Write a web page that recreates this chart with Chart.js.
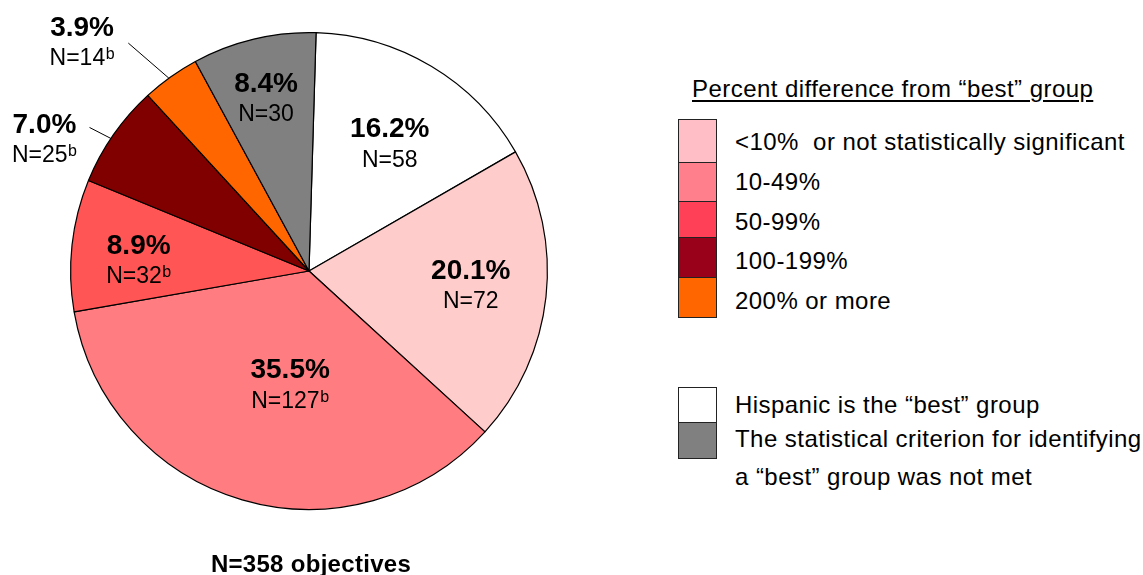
<!DOCTYPE html>
<html>
<head>
<meta charset="utf-8">
<script src="https://cdn.jsdelivr.net/npm/chart.js@4/dist/chart.umd.min.js"></script>
<style>
  html, body { margin: 0; padding: 0; background: #fff; }
  body { width: 1143px; height: 575px; position: relative; overflow: hidden;
         font-family: "Liberation Sans", Arial, sans-serif; color: #000; }
  #pie { position: absolute; left: 0; top: 0; }
  .t { position: absolute; font-size: 24px; line-height: 24px; white-space: pre; letter-spacing: 0.45px; }
  .box { position: absolute; left: 678px; width: 39px; box-sizing: border-box; border: 1px solid #222; }
  #foot { position: absolute; left: 111px; width: 400px; top: 551.5px; text-align: center;
          font-weight: bold; font-size: 24px; line-height: 24px; letter-spacing: 0.3px; }
</style>
</head>
<body>
<canvas id="pie" width="618" height="575"></canvas>

<div class="t" style="left:692px; top:77px; text-decoration: underline; text-underline-offset: 3px;">Percent difference from “best” group</div>

<div id="legend1"></div>
<div id="legend2"></div>
<div id="foot">N=358 objectives</div>

<script>
// ---- data ----
const categories = [
  'Hispanic is the “best” group',
  '<10% or not statistically significant',
  '10-49%',
  '50-99%',
  '100-199%',
  '200% or more',
  'The statistical criterion for identifying a “best” group was not met'
];
const counts = [58, 72, 127, 32, 25, 14, 30];
const percentLabels = ['16.2%', '20.1%', '35.5%', '8.9%', '7.0%', '3.9%', '8.4%'];
const footnoteB = [false, false, true, true, true, true, false];

const legendLabels1 = ['<10%  or not statistically significant', '10-49%', '50-99%', '100-199%', '200% or more'];
const legendLabels2 = ['Hispanic is the “best” group', 'The statistical criterion for identifying', 'a “best” group was not met'];

// ---- styles ----
const sliceColors = ['#FFFFFF', '#FFCCCC', '#FF7C80', '#FF5555', '#800000', '#FF6600', '#808080'];
const legendColors1 = ['#FFBDC5', '#FF808C', '#FF4057', '#990019', '#FF6600'];
const legendColors2 = ['#FFFFFF', '#808080'];

// label placement relative to each slice (angle offset in degrees, radius factor)
const labelPlace = [
  { da: 1.4, r: 0.635 },
  { da: -1.4, r: 0.681 },
  { da: -6.8, r: 0.48 },
  { da: -2.3, r: 0.716 },
  { da: -8.2, r: 1.242 },
  { da: -9.2, r: 1.353 },
  { da: -0.5, r: 0.751 }
];
const leaders = [null, null, null, null,
  { da1: -1.1, r1: 1.0, da2: -1.7, r2: 1.10 },
  { da1: -0.5, r1: 1.0, da2: -2.9, r2: 1.22 },
  null];

// ---- legend (HTML) ----
(function () {
  const l1 = document.getElementById('legend1');
  const boxTops1 = [119, 162, 201, 237, 277, 317];
  const textTops1 = [130, 169.7, 209.7, 249.3, 289];
  legendLabels1.forEach((lab, i) => {
    const b = document.createElement('div');
    b.className = 'box';
    b.style.top = boxTops1[i] + 'px';
    b.style.height = (boxTops1[i + 1] - boxTops1[i] + 1) + 'px';
    b.style.background = legendColors1[i];
    l1.appendChild(b);
    const t = document.createElement('div');
    t.className = 't';
    t.style.left = '735px';
    t.style.top = textTops1[i] + 'px';
    t.textContent = lab;
    l1.appendChild(t);
  });
  const l2 = document.getElementById('legend2');
  const boxTops2 = [387, 422, 458];
  legendColors2.forEach((c, i) => {
    const b = document.createElement('div');
    b.className = 'box';
    b.style.top = boxTops2[i] + 'px';
    b.style.height = (boxTops2[i + 1] - boxTops2[i] + 1) + 'px';
    b.style.background = c;
    l2.appendChild(b);
  });
  const textTops2 = [392.8, 426.5, 464.8];
  legendLabels2.forEach((lab, i) => {
    const t = document.createElement('div');
    t.className = 't';
    t.style.left = '735px';
    t.style.top = textTops2[i] + 'px';
    t.textContent = lab;
    l2.appendChild(t);
  });
})();

// ---- slice labels plugin ----
const FONT = '"Liberation Sans", Arial, sans-serif';
const sliceLabels = {
  id: 'sliceLabels',
  afterDatasetsDraw(chart) {
    const ctx = chart.ctx;
    const meta = chart.getDatasetMeta(0);
    meta.data.forEach((arc, i) => {
      const p = arc.getProps(['x', 'y', 'startAngle', 'endAngle', 'outerRadius'], true);
      const mid = (p.startAngle + p.endAngle) / 2;
      const R = p.outerRadius;
      ctx.save();
      const ld = leaders[i];
      if (ld) {
        const a1 = mid + ld.da1 * Math.PI / 180, a2 = mid + ld.da2 * Math.PI / 180;
        ctx.strokeStyle = '#000';
        ctx.lineWidth = 1;
        ctx.beginPath();
        ctx.moveTo(p.x + Math.cos(a1) * R * ld.r1, p.y + Math.sin(a1) * R * ld.r1);
        ctx.lineTo(p.x + Math.cos(a2) * R * ld.r2, p.y + Math.sin(a2) * R * ld.r2);
        ctx.stroke();
      }
      const pl = labelPlace[i];
      const a = mid + pl.da * Math.PI / 180;
      const cx = p.x + Math.cos(a) * R * pl.r;
      const cy = p.y + Math.sin(a) * R * pl.r;
      ctx.fillStyle = '#000';
      ctx.textBaseline = 'alphabetic';
      // percent line
      ctx.font = 'bold 28px ' + FONT;
      ctx.textAlign = 'center';
      ctx.fillText(percentLabels[i], cx, cy - 15.5 + 10);
      // N line
      const nText = 'N=' + counts[i];
      ctx.font = '23px ' + FONT;
      const w1 = ctx.measureText(nText).width;
      let w2 = 0;
      if (footnoteB[i]) {
        ctx.font = '16px ' + FONT;
        w2 = ctx.measureText('b').width + 0.5;
      }
      const x0 = cx - (w1 + w2) / 2;
      const base = cy + 15.5 + 8.2;
      ctx.textAlign = 'left';
      ctx.font = '23px ' + FONT;
      ctx.fillText(nText, x0, base);
      if (footnoteB[i]) {
        ctx.font = '16px ' + FONT;
        ctx.fillText('b', x0 + w1 + 0.5, base - 6);
      }
      ctx.restore();
    });
  }
};

new Chart(document.getElementById('pie'), {
  type: 'pie',
  data: {
    labels: categories,
    datasets: [{
      data: counts,
      backgroundColor: sliceColors,
      borderColor: '#000',
      borderWidth: 1.2
    }]
  },
  options: {
    responsive: false,
    animation: false,
    rotation: 1.7,
    layout: { padding: { left: 70, right: 70, top: 32, bottom: 65 } },
    plugins: {
      legend: { display: false },
      tooltip: { enabled: false },
      title: { display: false }
    }
  },
  plugins: [sliceLabels]
});
</script>
</body>
</html>
